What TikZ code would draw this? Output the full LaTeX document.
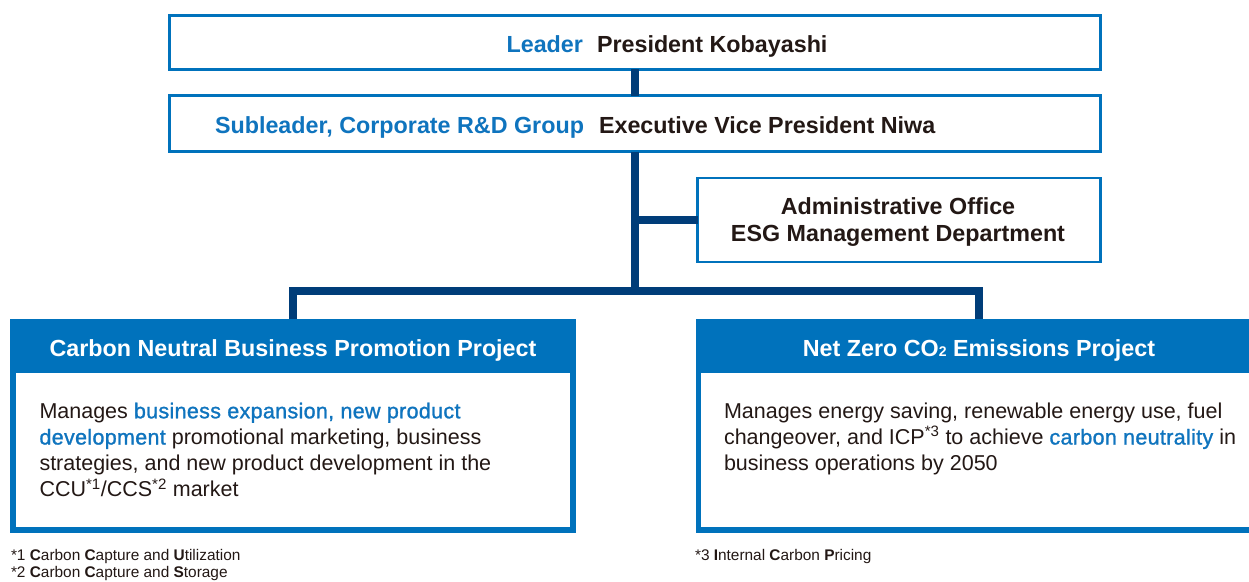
\documentclass[tikz,border=0pt]{standalone}
\usepackage{fontspec}
\setmainfont{Liberation Sans}
\newfontfamily\medfont[FakeBold=1.2,LetterSpace=1.5]{Liberation Sans}
\definecolor{boxblue}{HTML}{0072BC}
\definecolor{navy}{HTML}{003D79}
\definecolor{txtblue}{HTML}{0F74BE}
\definecolor{txt}{HTML}{231815}
\newcommand{\hl}[1]{\textcolor{txtblue}{\medfont #1}}
\begin{document}
\begin{tikzpicture}[x=1pt,y=-1pt,
  every node/.style={inner sep=0pt, outer sep=0pt},
  linebox/.style={draw=boxblue, line width=2.5pt, rectangle},
  projbox/.style={fill=boxblue, rectangle, minimum width=566pt, minimum height=214pt},
  conn/.style={draw=navy, line width=8pt},
  headfont/.style={font=\bfseries\fontsize{23.3}{28}\selectfont},
  bodyfont/.style={font=\fontsize{21.5}{26}\selectfont, text=txt, anchor=base west},
  notefont/.style={font=\fontsize{15.4}{18}\selectfont, text=txt, anchor=base west}]
\useasboundingbox (0,0) rectangle (1249,581);
\clip (0,0) rectangle (1249,581);
\fill[white] (0,0) rectangle (1249,581);

% boxes
\node[linebox, minimum width=931pt, minimum height=54pt] (top) at (635,42.4) {};
\node[linebox, minimum width=931pt, minimum height=56pt] (sub) at (635,123.5) {};
\node[linebox, minimum width=403pt, minimum height=84pt] (admin) at (899,220) {};
\node[projbox] (lp) at (293,426) {};
\fill[white] (16,373) rectangle (570,527);
\node[projbox] (rp) at (979,426) {};
\fill[white] (701,373) rectangle (1256,527);

% connectors
\coordinate (hub) at (635,291);
\draw[conn] (top.south) -- (sub.north);
\draw[conn] (sub.south) -- (hub);
\draw[conn] (sub.south |- admin.west) -- (admin.west);
\draw[conn] (lp.north) |- (hub) -| (rp.north);

% texts in top boxes
\node[headfont, text=txtblue, anchor=base east] (ldrlab) at (583,52.5) {Leader};
\node[headfont, text=txt, anchor=base west] (ldrname) at (597,52.5) {President Kobayashi};
\node[headfont, text=txtblue, anchor=base east] (sublab) at (584,133) {Subleader, Corporate R\&D Group};
\node[headfont, text=txt, anchor=base west] (subname) at (599,133) {Executive Vice President Niwa};
\node[headfont, text=txt, anchor=base] (adm1) at (898,214) {Administrative Office};
\node[headfont, text=txt, anchor=base] (adm2) at (898,241.7) {ESG Management Department};

% project titles
\node[headfont, text=white, anchor=base] (lptitle) at (293,356) {Carbon Neutral Business Promotion Project};
\node[headfont, text=white, anchor=base] (rptitle) at (979,356) {Net Zero CO{\fontsize{14}{14}\selectfont 2} Emissions Project};

% body texts
\node[bodyfont] (lb1) at (39.5,418.3) {Manages \hl{business expansion, new product}};
\node[bodyfont] (lb2) at (39.5,444.5) {\hl{development} promotional marketing, business};
\node[bodyfont] (lb3) at (39.5,470.7) {strategies, and new product development in the};
\node[bodyfont] (lb4) at (39.5,496.9) {CCU\textsuperscript{*1}/CCS\textsuperscript{*2} market};
\node[bodyfont] (rb1) at (724,418.3) {Manages energy saving, renewable energy use, fuel};
\node[bodyfont] (rb2) at (724,444.5) {changeover, and ICP\textsuperscript{*3} to achieve \hl{carbon neutrality} in};
\node[bodyfont] (rb3) at (724,470.7) {business operations by 2050};

% footnotes
\node[notefont] (fn1) at (11,560) {*1 \textbf{C}arbon \textbf{C}apture and \textbf{U}tilization};
\node[notefont] (fn2) at (11,577.7) {*2 \textbf{C}arbon \textbf{C}apture and \textbf{S}torage};
\node[notefont] (fn3) at (695,560) {*3 \textbf{I}nternal \textbf{C}arbon \textbf{P}ricing};
\end{tikzpicture}
\end{document}
